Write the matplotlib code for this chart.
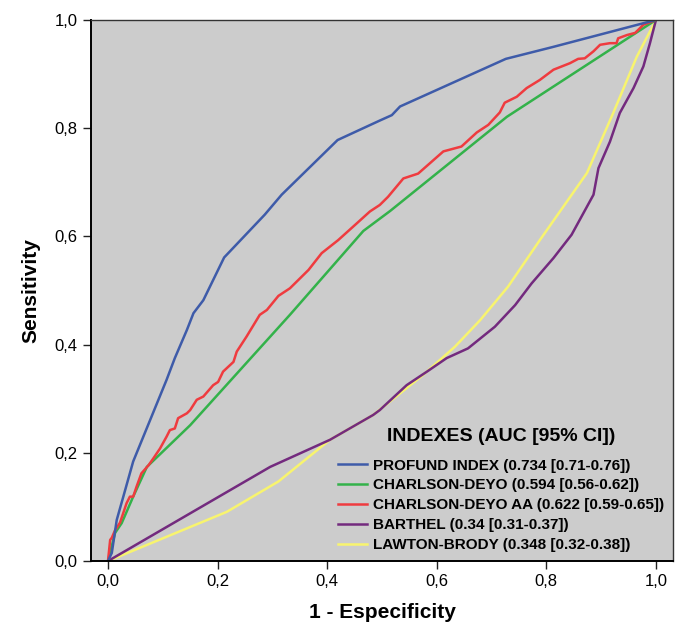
import matplotlib.pyplot as plt
from matplotlib.ticker import FuncFormatter

plt.rcParams['font.family'] = ['Liberation Sans', 'DejaVu Sans']

# ROC curves (1 - specificity, sensitivity)
profund_x = [0, 0.007, 0.016, 0.028, 0.046, 0.107, 0.122, 0.144, 0.156, 0.174,
             0.212, 0.286, 0.317, 0.419, 0.496, 0.518, 0.533, 0.726, 0.812, 1]
profund_y = [0, 0.015, 0.076, 0.119, 0.184, 0.335, 0.375, 0.427, 0.458, 0.482,
             0.561, 0.640, 0.677, 0.778, 0.814, 0.824, 0.840, 0.928, 0.950, 1]

charlson_x = [0, 0.013, 0.025, 0.046, 0.071, 0.150, 0.332, 0.466, 0.515, 0.728, 1]
charlson_y = [0, 0.052, 0.070, 0.119, 0.174, 0.251, 0.455, 0.610, 0.647, 0.821, 1]

charlson_aa_x = [0, 0.004, 0.007, 0.013, 0.022, 0.034, 0.040, 0.046, 0.052, 0.061,
                 0.074, 0.083, 0.095, 0.107, 0.113, 0.122, 0.128, 0.144, 0.150, 0.162,
                 0.174, 0.192, 0.201, 0.210, 0.229, 0.235, 0.253, 0.277, 0.290, 0.311,
                 0.332, 0.347, 0.366, 0.390, 0.420, 0.454, 0.478, 0.496, 0.511, 0.539,
                 0.566, 0.612, 0.645, 0.673, 0.694, 0.715, 0.724, 0.746, 0.764, 0.788,
                 0.813, 0.843, 0.858, 0.870, 0.886, 0.898, 0.916, 0.928, 0.931, 0.947,
                 0.962, 0.977, 1]
charlson_aa_y = [0, 0.039, 0.043, 0.057, 0.071, 0.107, 0.119, 0.119, 0.137, 0.162,
                 0.177, 0.190, 0.208, 0.230, 0.242, 0.245, 0.264, 0.273, 0.279, 0.298,
                 0.304, 0.325, 0.331, 0.350, 0.368, 0.387, 0.415, 0.455, 0.464, 0.490,
                 0.504, 0.519, 0.538, 0.569, 0.593, 0.624, 0.646, 0.658, 0.673, 0.707,
                 0.716, 0.757, 0.766, 0.792, 0.806, 0.829, 0.847, 0.858, 0.874, 0.889,
                 0.908, 0.920, 0.928, 0.929, 0.942, 0.954, 0.957, 0.957, 0.966, 0.972,
                 0.976, 0.991, 1]

barthel_x = [0, 0.296, 0.405, 0.484, 0.496, 0.545, 0.582, 0.618, 0.657, 0.706,
             0.743, 0.773, 0.813, 0.846, 0.886, 0.895, 0.916, 0.934, 0.959, 0.977,
             0.989, 1]
barthel_y = [0, 0.174, 0.224, 0.270, 0.279, 0.325, 0.350, 0.375, 0.393, 0.433,
             0.473, 0.513, 0.560, 0.603, 0.677, 0.726, 0.775, 0.828, 0.874, 0.914,
             0.957, 1]

lawton_x = [0, 0.217, 0.311, 0.405, 0.484, 0.575, 0.633, 0.679, 0.730, 0.788,
            0.874, 0.922, 0.965, 1]
lawton_y = [0, 0.091, 0.147, 0.224, 0.270, 0.344, 0.396, 0.445, 0.507, 0.593,
            0.717, 0.828, 0.932, 1]

labels = ['PROFUND INDEX (0.734 [0.71-0.76])',
          'CHARLSON-DEYO (0.594 [0.56-0.62])',
          'CHARLSON-DEYO AA (0.622 [0.59-0.65])',
          'BARTHEL (0.34 [0.31-0.37])',
          'LAWTON-BRODY (0.348 [0.32-0.38])']
colors = ['#3E5BA9', '#33B24A', '#EF3B3F', '#732A7E', '#F8F46E']

curves = [(profund_x, profund_y), (charlson_x, charlson_y),
          (charlson_aa_x, charlson_aa_y), (barthel_x, barthel_y),
          (lawton_x, lawton_y)]

fig = plt.figure(figsize=(6.81, 6.22), dpi=100)
ax = fig.add_axes([0.1336, 0.098, 0.8546, 0.870])
ax.set_facecolor('#CCCCCC')

# draw bottom curves first so the legend order stays the same
order = [4, 3, 1, 2, 0]
handles = {}
for i in order:
    xs, ys = curves[i]
    h, = ax.plot(xs, ys, color=colors[i], lw=1.8, label=labels[i])
    handles[i] = h

ax.set_xlim(-0.031, 1.031)
ax.set_ylim(0, 1)
ax.set_xticks([0, 0.2, 0.4, 0.6, 0.8, 1.0])
ax.set_yticks([0, 0.2, 0.4, 0.6, 0.8, 1.0])
fmt = FuncFormatter(lambda v, p: f'{v:.1f}'.replace('.', ','))
ax.xaxis.set_major_formatter(fmt)
ax.yaxis.set_major_formatter(fmt)
ax.tick_params(direction='out', length=6, width=1, labelsize=12, colors='#222222')
ax.tick_params(labelcolor='black')
for side in ['left', 'bottom']:
    ax.spines[side].set_linewidth(1.4)
for side in ['top', 'right']:
    ax.spines[side].set_linewidth(1.0)
    ax.spines[side].set_color('#333333')

ax.set_xlabel('1 - Especificity', fontsize=15, fontweight='bold', labelpad=10)
ax.set_ylabel('Sensitivity', fontsize=15, fontweight='bold', labelpad=10)

leg = ax.legend([handles[i] for i in range(5)], labels, loc='lower right',
                bbox_to_anchor=(1.0, 0.0), frameon=False,
                prop={'size': 11, 'weight': 'bold'},
                title='INDEXES (AUC [95% CI])',
                title_fontproperties={'size': 14, 'weight': 'bold'},
                handlelength=1.9, handletextpad=0.35, labelspacing=0.38,
                borderaxespad=0.2)
# extra room under the legend title
leg._legend_box.sep = 10

fig.savefig('out.png', dpi=100)
